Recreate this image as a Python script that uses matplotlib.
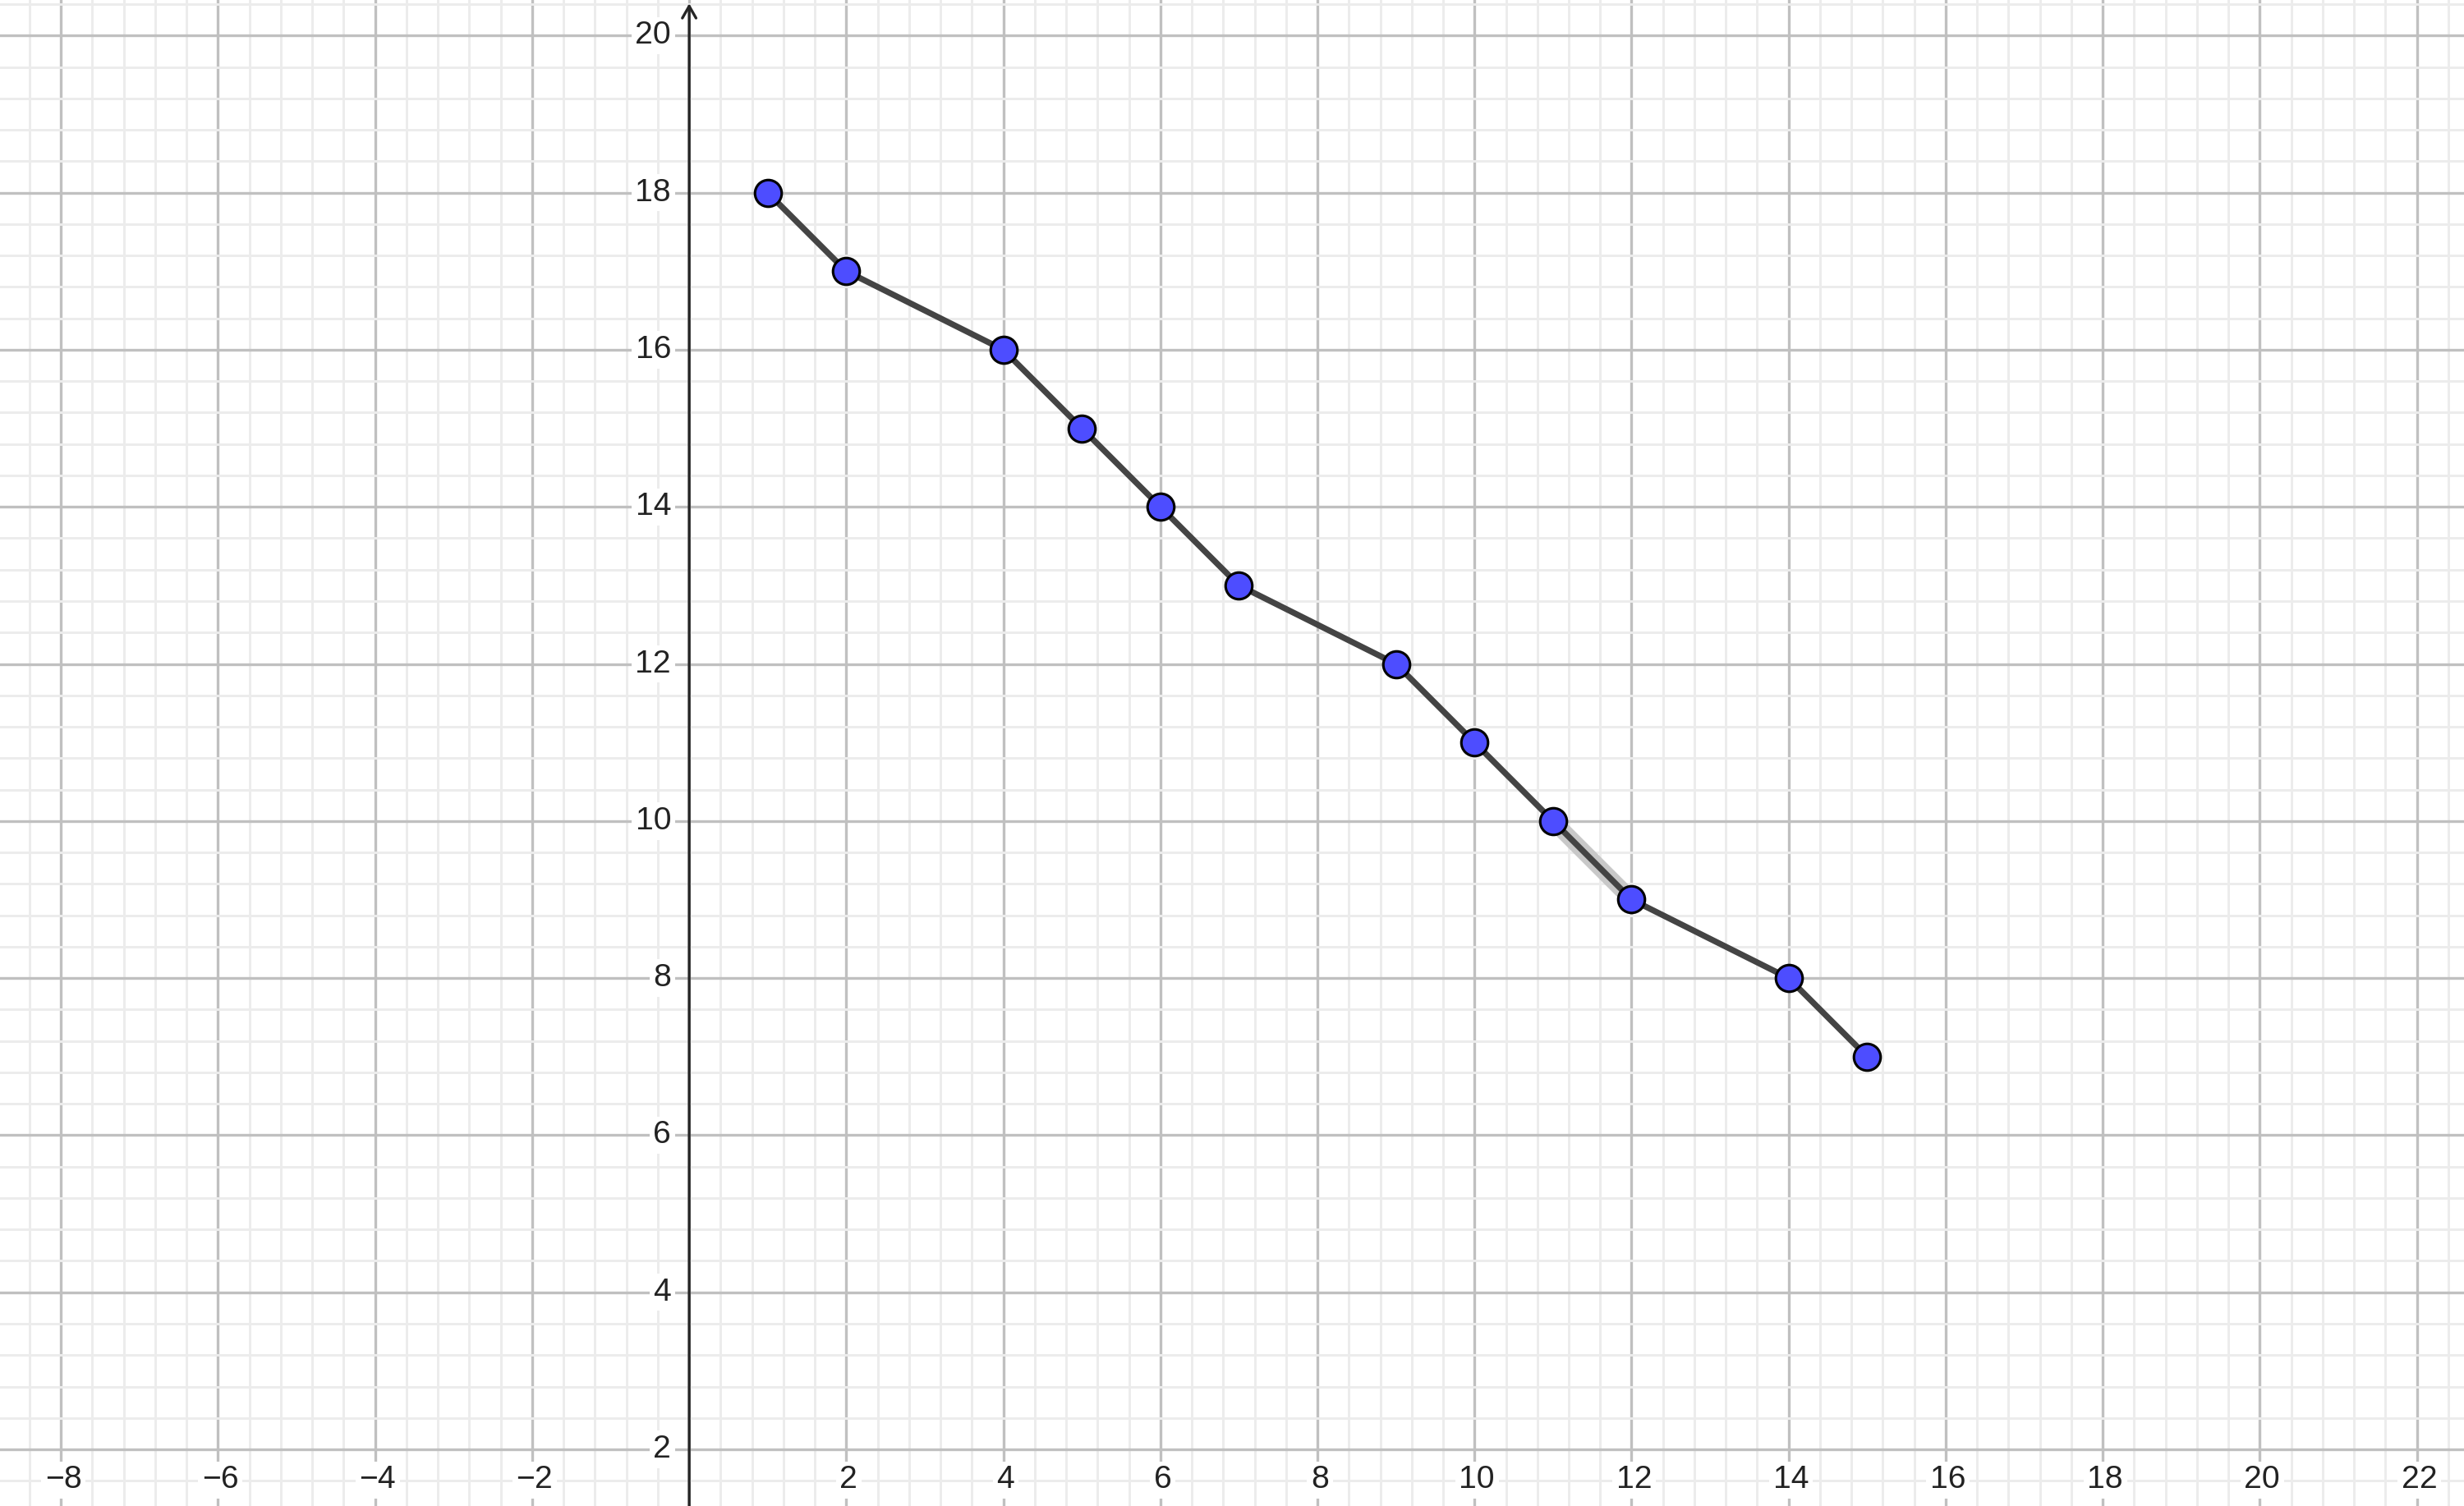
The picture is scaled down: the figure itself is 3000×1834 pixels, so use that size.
import matplotlib
matplotlib.use("Agg")
import matplotlib.pyplot as plt
import numpy as np
from matplotlib.ticker import MultipleLocator
import matplotlib.transforms as mtransforms

# data points of the polyline
xs = [1, 2, 4, 5, 6, 7, 9, 10, 11, 12, 14, 15]
ys = [18, 17, 16, 15, 14, 13, 12, 11, 10, 9, 8, 7]
# segment that is shown as selected
sel = (8, 9)

xTicks = list(range(-8, 23, 2))
yTicks = list(range(2, 21, 2))

plt.rcParams["font.family"] = ["Liberation Sans", "DejaVu Sans"]

fig = plt.figure(figsize=(10, 6.1134), dpi=300)
ax = fig.add_axes([0, 0, 1, 1])
ax.set_xlim(-8.776, 22.60)
ax.set_ylim(1.279, 20.453)

""" grid """
ax.xaxis.set_major_locator(MultipleLocator(2))
ax.yaxis.set_major_locator(MultipleLocator(2))
ax.xaxis.set_minor_locator(MultipleLocator(0.4))
ax.yaxis.set_minor_locator(MultipleLocator(0.4))
ax.grid(which="minor", color="#ececec", lw=0.7, zorder=0)
ax.grid(which="major", color="#c0c0c0", lw=0.8, zorder=0.5)
ax.set_axisbelow(True)
ax.tick_params(which="both", length=0, labelbottom=False, labelleft=False)
for s in ax.spines.values():
    s.set_visible(False)

""" y axis with arrow """
ax.annotate("", xy=(0, 20.41), xytext=(0, 1.279),
            arrowprops=dict(arrowstyle="->,head_length=0.35,head_width=0.2",
                            color="#252525", lw=0.8, shrinkA=0, shrinkB=0),
            zorder=2)

""" tick labels """
trans = mtransforms.blended_transform_factory(ax.transData, ax.transAxes)
box = dict(boxstyle="square,pad=0.12", fc="white", ec="none")
for t in xTicks:
    if t == 0:
        continue
    ax.text(t + 0.03, 0.0172, str(t).replace("-", "\u2212"), transform=trans,
            ha="center", va="center", fontsize=9.4, color="#222222",
            bbox=box, zorder=3)
for t in yTicks:
    ax.text(-0.23, t, str(t), ha="right", va="center", fontsize=9.4,
            color="#222222", bbox=box, zorder=3)

""" polyline """
ax.plot(xs[sel[0]:sel[1] + 1], ys[sel[0]:sel[1] + 1], color="#c8c8c8",
        lw=4.8, solid_capstyle="butt", zorder=3.5)
ax.plot(xs, ys, color="#444444", lw=1.75, zorder=4)
ax.plot(xs, ys, ls="none", marker="o", ms=7.8, mfc="#4d4dff",
        mec="black", mew=0.75, zorder=5)

fig.savefig("out.png", dpi=300)
